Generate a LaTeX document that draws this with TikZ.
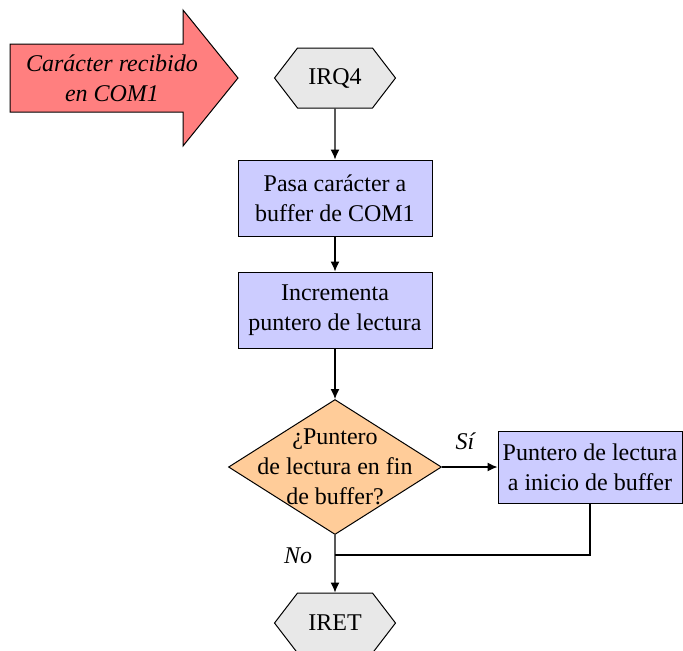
\documentclass[tikz,border=0pt]{standalone}
\usepackage{fontspec}
\setmainfont{Liberation Serif}
\usetikzlibrary{arrows.meta,shapes.geometric,shapes.symbols}
\definecolor{arrowred}{HTML}{FF7F7F}
\definecolor{termgray}{HTML}{E8E8E8}
\definecolor{procblue}{HTML}{CCCCFF}
\definecolor{askorange}{HTML}{FFCC99}

\begin{document}
\begin{tikzpicture}[x=0.5pt,y=-0.5pt,
  every node/.style={font=\fontsize{12}{15}\selectfont},
  remark/.style={font=\fontsize{12}{15}\selectfont\itshape,align=center},
  procbox/.style={draw,line width=0.5pt,fill=procblue,minimum width=97pt,
    minimum height=38pt,align=center,inner sep=1pt},
  termhex/.style={draw,line width=0.5pt,fill=termgray,signal,
    signal to=west and east,signal pointer angle=105,
    minimum width=60.5pt,minimum height=30pt,inner sep=1pt},
  ask/.style={draw,line width=0.5pt,fill=askorange,diamond,aspect=1.58,
    minimum width=106.5pt,minimum height=67.5pt,align=center,
    inner xsep=0pt,inner ysep=-13pt},
  flow/.style={line width=0.6pt,-{Latex[length=5pt,width=4.5pt]}}]
  \useasboundingbox (0,0) rectangle (683,650);
  \draw[line width=0.5pt,fill=arrowred] (10,44) -- (183,44) -- (183,10)
    -- (238,78) -- (183,146) -- (183,112) -- (10,112) -- cycle;
  \node[remark] (incoming) at (112,78) {Carácter recibido\\en COM1};
  \node[termhex] (irq) at (335,78) {IRQ4};
  \node[procbox] (tobuffer) at (335,198) {Pasa carácter a\\buffer de COM1};
  \node[procbox] (increment) at (335,310) {Incrementa\\puntero de lectura};
  \node[ask] (check) at (335,467) {¿Puntero\\de lectura en fin\\de buffer?};
  \node[procbox,minimum width=92pt,minimum height=36pt] (reset) at (590,467)
    {Puntero de lectura\\a inicio de buffer};
  \node[termhex] (iret) at (335,623) {IRET};
  \coordinate (join) at (335,555);
  \draw[flow] (irq) -- (tobuffer);
  \draw[flow] (tobuffer) -- (increment);
  \draw[flow] (increment) -- (check);
  \draw[flow] (check) -- (reset);
  \draw[flow] (check) -- (iret);
  \draw[line width=0.6pt] (reset.south) |- (join);
  \node[remark] (yes) at (465,441) {Sí};
  \node[remark] (no) at (298,556) {No};
\end{tikzpicture}
\end{document}
